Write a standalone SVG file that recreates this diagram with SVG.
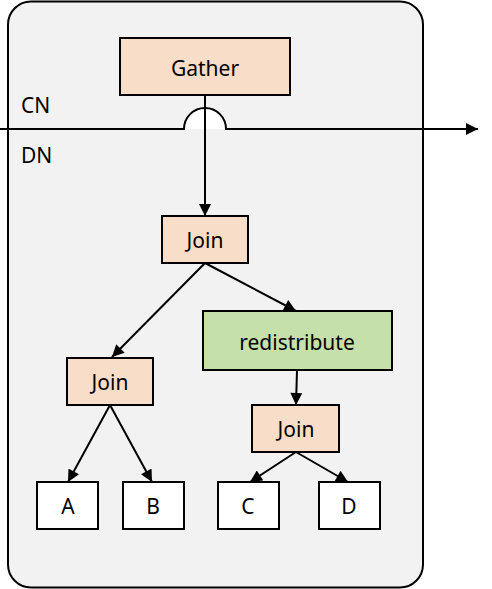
<svg xmlns="http://www.w3.org/2000/svg" width="492" height="589" viewBox="0 0 492 589">
<style>
.lbl{font-family:"Noto Sans","Open Sans","Liberation Sans",sans-serif;font-size:21px;fill:#000;}
.mid{text-anchor:middle;dominant-baseline:central;}
.box{stroke:#000;stroke-width:2;}
.peach{fill:#F8DEC8;}
.green{fill:#C5E0A8;}
.plain{fill:#FFFFFF;}
.edge{stroke:#000;stroke-width:2;fill:none;marker-end:url(#arr);}
</style>
<defs>
<marker id="arr" viewBox="0 0 10 10" refX="10" refY="5" markerWidth="13" markerHeight="12" markerUnits="userSpaceOnUse" orient="auto">
<path d="M0,0 L10,5 L0,10 z" fill="#000"/>
</marker>
</defs>
<g id="container">
<rect x="8" y="1.5" width="415" height="586" rx="23" ry="23" fill="#F2F2F2" stroke="#000" stroke-width="2"/>
<text class="lbl" x="21" y="113">CN</text>
<text class="lbl" x="21" y="163">DN</text>
</g>
<g id="connectors">
<path d="M184,129 A21,21 0 0 1 226,129 Z" fill="#FFFFFF" stroke="none"/>
<path d="M0,129 H184 A21,21 0 0 1 226,129 H478" class="edge"/>
<path d="M205,95 V216" class="edge"/>
<path d="M205,263 L112,357" class="edge"/>
<path d="M205,263 L296,311" class="edge"/>
<path d="M297,370 L296,405" class="edge"/>
<path d="M110,405 L68,482" class="edge"/>
<path d="M110,405 L152,482" class="edge"/>
<path d="M296,452 L250,482" class="edge"/>
<path d="M296,452 L348,482" class="edge"/>
</g>
<g id="gather">
<rect class="box peach" x="120" y="38" width="170" height="57"/>
<text class="lbl mid" x="205" y="68">Gather</text>
</g>
<g id="join-top">
<rect class="box peach" x="162" y="216" width="86" height="47"/>
<text class="lbl mid" x="205" y="240">Join</text>
</g>
<g id="redistribute">
<rect class="box green" x="203" y="311" width="189" height="59"/>
<text class="lbl mid" x="297" y="342">redistribute</text>
</g>
<g id="join-left">
<rect class="box peach" x="67" y="358" width="86" height="47"/>
<text class="lbl mid" x="110" y="382">Join</text>
</g>
<g id="join-right">
<rect class="box peach" x="252" y="405" width="87" height="47"/>
<text class="lbl mid" x="296" y="429">Join</text>
</g>
<g id="a">
<rect class="box plain" x="37" y="482" width="61" height="47"/>
<text class="lbl mid" x="68" y="506">A</text>
</g>
<g id="b">
<rect class="box plain" x="123" y="482" width="61" height="47"/>
<text class="lbl mid" x="153" y="506">B</text>
</g>
<g id="c">
<rect class="box plain" x="218" y="482" width="61" height="47"/>
<text class="lbl mid" x="248" y="506">C</text>
</g>
<g id="d">
<rect class="box plain" x="319" y="482" width="61" height="47"/>
<text class="lbl mid" x="349" y="506">D</text>
</g>
</svg>
